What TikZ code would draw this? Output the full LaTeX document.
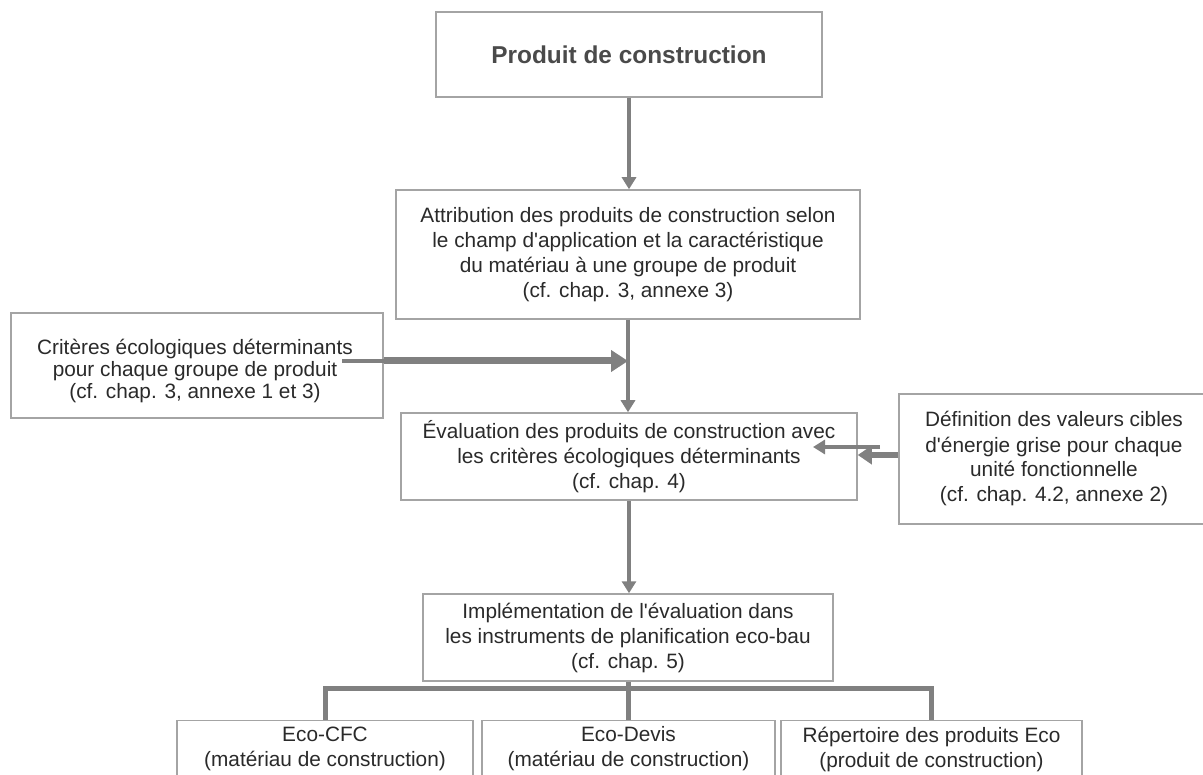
\documentclass[tikz,border=0pt]{standalone}
\usepackage{fontspec}
\setmainfont{Liberation Sans}
\usetikzlibrary{arrows.meta}
\definecolor{txt}{HTML}{2A2A2A}
\definecolor{ttl}{HTML}{4A4A4A}
\definecolor{bord}{HTML}{A4A4A4}
\definecolor{arr}{HTML}{808080}
\begin{document}
\begin{tikzpicture}[x=1pt,y=-1pt,
  box/.style={draw=bord,line width=1.5pt,fill=white,text=txt,align=center,inner sep=0pt,
    font=\fontsize{20.8}{25}\selectfont},
  conn/.style={draw=arr,line width=4.5pt},
  tipS/.style={-{Triangle[length=12pt,width=14pt]}},
  tipL/.style={-{Triangle[length=17pt,width=21pt]}},
  tipM/.style={-{Triangle[length=14pt,width=18pt]}}]
\useasboundingbox (0,0) rectangle (1203,775);

\node[box,minimum width=386pt,minimum height=85pt,text=ttl,
  font=\fontsize{24.4}{29}\selectfont\bfseries] (p) at (629,54.5) {Produit de construction};

\node[box,minimum width=464pt,minimum height=129pt] (a) at (628,254.5)
  {Attribution des produits de construction selon\\le champ d\textquotesingle application et la caractéristique\\du matériau à une groupe de produit\\(cf. chap. 3, annexe 3)};

\node[box,minimum width=372pt,minimum height=105pt] (c) at (197,365.5) {};
\node[text=txt,align=center,inner sep=0pt,font=\fontsize{20.8}{22}\selectfont] (ct) at (195,371)
  {Critères écologiques déterminants\\pour chaque groupe de produit\\(cf. chap. 3, annexe 1 et 3)};

\node[box,minimum width=456pt,minimum height=87pt] (e) at (629,456.5)
  {Évaluation des produits de construction avec\\les critères écologiques déterminants\\(cf. chap. 4)};

\node[box,minimum width=310pt,minimum height=130pt] (d) at (1054,459)
  {Définition des valeurs cibles\\d\textquotesingle énergie grise pour chaque\\unité fonctionnelle\\(cf. chap. 4.2, annexe 2)};

\node[box,minimum width=410pt,minimum height=87pt] (i) at (628,637.5)
  {Implémentation de l\textquotesingle évaluation dans\\les instruments de planification eco-bau\\(cf. chap. 5)};

\node[box,minimum width=296pt,minimum height=57pt] (A) at (325,749)
  {Eco-CFC\\(matériau de construction)};
\node[box,minimum width=293pt,minimum height=57pt] (B) at (628.5,749)
  {Eco-Devis\\(matériau de construction)};
\node[box,minimum width=301pt,minimum height=57pt] (C) at (931.5,749)
  {Répertoire des produits Eco\\(produit de construction)};

% vertical flow
\draw[conn,tipS] (p.south) -- (p.south |- a.north);
\draw[conn,tipS] (a.south) -- (a.south |- e.north);
\draw[conn,tipS] (e.south) -- (e.south |- i.north);

% left input
\coordinate (j) at (628,361);
\coordinate (cs) at (342,361);
\draw[conn,line width=4pt] (cs) -- (c.east |- cs);
\draw[conn,line width=7pt,tipL] (c.east |- j) -- (j);

% right input
\coordinate (r1) at (880,447);
\coordinate (r1t) at (813,447);
\coordinate (ry) at (0,455);
\draw[conn,line width=4pt,tipS] (r1) -- (r1t);
\draw[conn,line width=6pt,tipM] (d.west |- ry) -- (e.east |- ry);

% bracket
\coordinate (bh) at (0,688);
\draw[conn,line width=5pt] (i.south) -- (i.south |- B.north);
\draw[conn,line width=5pt] (A.north) -- (A.north |- bh) -- (C.north |- bh) -- (C.north);
\end{tikzpicture}
\end{document}
